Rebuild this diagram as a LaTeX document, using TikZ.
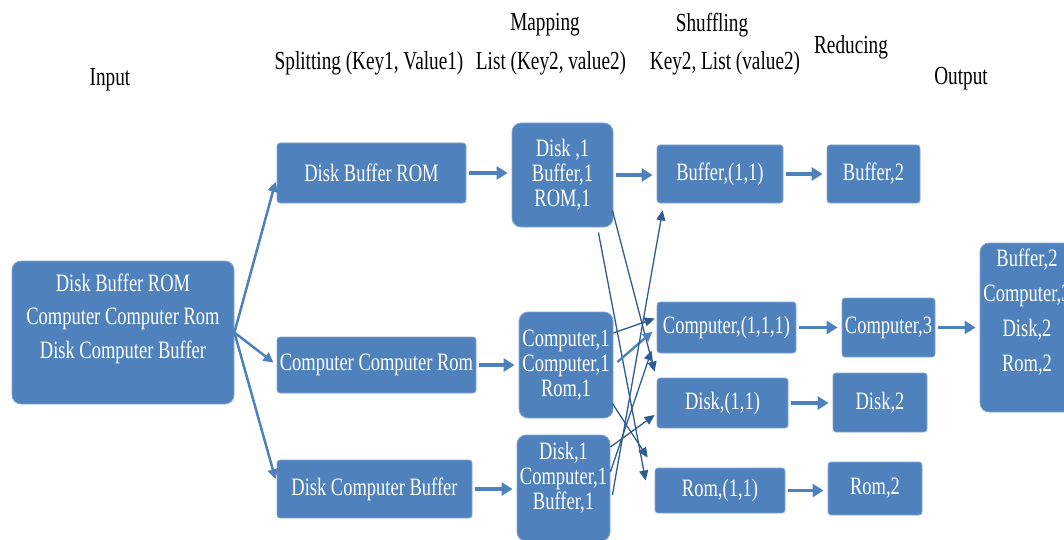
\documentclass[tikz,border=0pt]{standalone}
\usepackage{fontspec}
\setmainfont{Liberation Serif}[FakeStretch=0.74]
\usepackage{xcolor}
\usetikzlibrary{arrows.meta}
\definecolor{boxblue}{HTML}{4F81BD}
\definecolor{linkblue}{HTML}{2F5B93}

\begin{document}
\begin{tikzpicture}[x=1pt,y=-1pt,
  every node/.style={font=\fontsize{25}{25}\selectfont},
  blk/.style={fill=boxblue,draw=boxblue!70!white,line width=0.8pt,rounded corners=3pt,
              text=white,inner sep=0pt,align=center},
  big/.style={blk,rounded corners=9pt},
  hd/.style={text=black,inner sep=0pt,font=\fontsize{26}{30}\selectfont},
  fat/.style={-{Triangle[length=11pt,width=13pt]},boxblue,line width=3.5pt,
              shorten <=3pt,shorten >=4pt},
  fan/.style={-{Triangle[length=10pt,width=10pt]},boxblue,line width=2.5pt,shorten >=4pt},
  xl/.style={-{Triangle[length=10pt,width=9pt]},linkblue,line width=1.3pt}
]
\clip (0,0) rectangle (1064,540);

% column titles
\node[hd] (tin)  at (110,80) {Input};
\node[hd] (tsp)  at (369,63) {Splitting (Key1, Value1)};
\node[hd] (tmap) at (545,25) {Mapping};
\node[hd] (tmkv) at (551,63) {List (Key2, value2)};
\node[hd] (tsh)  at (712,25) {Shuffling};
\node[hd] (tshk) at (725,63) {Key2, List (value2)};
\node[hd] (tred) at (851,47) {Reducing};
\node[hd] (tout) at (961,79) {Output};

% input
\node[big,minimum width=222pt,minimum height=143pt,font=\fontsize{25}{33.5}\selectfont]
  (in) at (123,332.5) {Disk Buffer ROM\\Computer Computer Rom\\Disk Computer Buffer\\ \mbox{}};

% splitting
\node[blk,minimum width=189pt,minimum height=60pt] (s1) at (371.5,173) {Disk Buffer ROM};
\node[blk,minimum width=199pt,minimum height=56pt] (s2) at (376.5,365) {Computer Computer Rom};
\node[blk,minimum width=195pt,minimum height=58pt] (s3) at (374.5,489) {Disk Computer Buffer};

% mapping
\node[big,minimum width=101pt,minimum height=104pt] (m1) at (562.5,175) {Disk ,1\\Buffer,1\\ROM,1};
\node[big,minimum width=94pt,minimum height=106pt]  (m2) at (566,365) {Computer,1\\Computer,1\\Rom,1};
\node[big,minimum width=93pt,minimum height=106pt]  (m3) at (563.5,488) {Disk,1\\Computer,1\\Buffer,1\\ \mbox{}};

% shuffling
\node[blk,minimum width=126pt,minimum height=58pt] (h1) at (720,174) {Buffer,(1,1)};
\node[blk,minimum width=139pt,minimum height=51pt] (h2) at (726.5,327.5) {Computer,(1,1,1)};
\node[blk,minimum width=131pt,minimum height=50pt] (h3) at (722.5,403) {Disk,(1,1)};
\node[blk,minimum width=130pt,minimum height=45pt] (h4) at (720,490.5) {Rom,(1,1)};

% reducing
\node[blk,minimum width=93pt,minimum height=58pt] (r1) at (873.5,174) {Buffer,2};
\node[blk,minimum width=93pt,minimum height=59pt] (r2) at (888.5,327.5) {Computer,3};
\node[blk,minimum width=94pt,minimum height=59pt] (r3) at (880,402.5) {Disk,2};
\node[blk,minimum width=94pt,minimum height=53pt] (r4) at (875,488.5) {Rom,2};

% output
\node[big,minimum width=94pt,minimum height=169pt,font=\fontsize{25}{35}\selectfont]
  (out) at (1027,327.5) {Buffer,2\\Computer,3\\Disk,2\\Rom,2\\ \mbox{}};

% input -> splits
\draw[fan] (in.east) -- ([yshift=-5pt]s1.west);
\draw[fan] (in.east) -- (s2.west);
\draw[fan] (in.east) -- ([yshift=6pt]s3.west);

% straight arrows
\draw[fat] (s1.east) -- (s1.east -| m1.west);
\draw[fat] (s2.east) -- (s2.east -| m2.west);
\draw[fat] (s3.east) -- (s3.east -| m3.west);
\draw[fat] (m1.east) -- (m1.east -| h1.west);
\draw[fat] (h1.east) -- (h1.east -| r1.west);
\draw[fat] (h2.east) -- (h2.east -| r2.west);
\draw[fat] (h3.east) -- (h3.east -| r3.west);
\draw[fat] (h4.east) -- (h4.east -| r4.west);
\draw[fat] (r2.east) -- (r2.east -| out.west);

% shuffle links
\draw[xl] ([xshift=-1pt,yshift=17pt]m1.south east) -- ([xshift=-2pt,yshift=6pt]h3.north west);
\draw[xl] ([xshift=-15pt,yshift=-5pt]m1.south east) -- ([xshift=-9pt,yshift=10pt]h4.west);
\draw[xl] ([yshift=32pt]m2.east) -- ([xshift=-2pt,yshift=9pt]h2.west);
\draw[xl,boxblue,line width=2.4pt] ([xshift=4pt,yshift=3pt]m2.east) -- ([xshift=-4pt,yshift=-4pt]h2.west);
\draw[xl] ([xshift=-1pt,yshift=15pt]m2.south east) -- ([xshift=-7pt,yshift=10pt]h4.north west);
\draw[xl] ([yshift=41pt]m3.east) -- ([xshift=-2pt,yshift=-12pt]h3.west);
\draw[xl] ([yshift=16pt]m3.east) -- ([xshift=-5pt,yshift=3pt]h2.south west);
\draw[xl] ([xshift=2pt,yshift=-7pt]m3.east) -- ([xshift=6pt,yshift=-7pt]h1.south west);
\end{tikzpicture}
\end{document}
